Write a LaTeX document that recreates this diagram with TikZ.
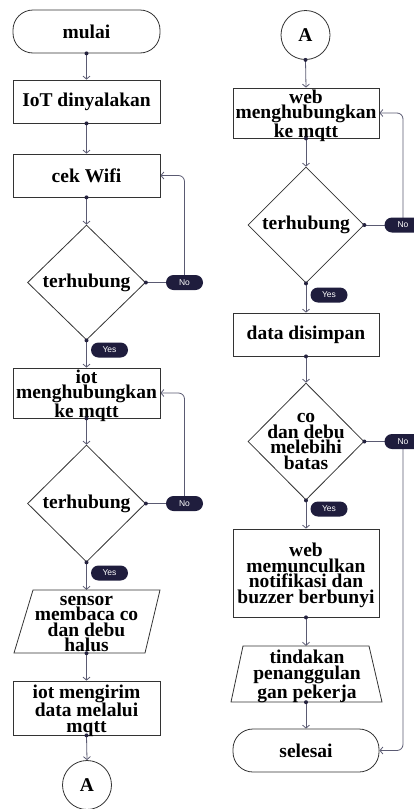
\documentclass[tikz,border=0pt]{standalone}
\usepackage{fontspec}
\setmainfont{Liberation Serif}
\newfontfamily\pillfont{Liberation Sans}
\usetikzlibrary{shapes.geometric,arrows.meta,backgrounds,calc}
\definecolor{linec}{HTML}{5A5A72}
\definecolor{dotc}{HTML}{25233F}
\definecolor{pillc}{HTML}{1F1D3D}
\definecolor{shapec}{HTML}{333333}
\begin{document}
\begin{tikzpicture}[x=1pt,y=-1pt,
  box/.style={draw=shapec, line width=0.8pt, rectangle, minimum width=147pt, inner sep=0pt},
  term/.style={box, rounded corners=20pt},
  dia/.style={draw=shapec, line width=0.8pt, diamond, inner sep=0pt},
  ghost/.style={rectangle, inner sep=0pt},
  conncirc/.style={draw=shapec, line width=0.8pt, circle, inner sep=0pt, minimum size=49pt},
  txt/.style={font=\bfseries\fontsize{19.5}{15.5}\selectfont, align=center, inner sep=0pt},
  txtm/.style={txt, yshift=-2.5pt},
  pill/.style={fill=pillc, text=white, rounded corners=7.5pt, minimum width=37pt, minimum height=15pt, inner sep=0pt, font=\pillfont\fontsize{8.5}{9}\selectfont},
  conn/.style={draw=linec, line width=0.8pt, -{Straight Barb[length=3pt,width=7pt]}},
  plain/.style={draw=linec, line width=0.8pt},
  shapeline/.style={draw=shapec, line width=0.8pt, line join=miter}
]
\useasboundingbox (0,0) rectangle (414,809);
% ---------- left column ----------
\node[term, minimum height=43pt] (t1) at (86.5,31.5) {};
\node[txt] (t1t) at (t1) {mulai};
\node[box, minimum height=43pt] (b1) at (86.5,101.5) {};
\node[txt] (b1t) at (b1) {IoT dinyalakan};
\node[box, minimum height=43pt] (b2) at (86.5,175.5) {};
\node[txt] (b2t) at (b2) {cek Wifi};
\node[dia, minimum width=118pt, minimum height=115pt] (d1) at (86.5,282.5) {};
\node[txt] (d1t) at (d1) {terhubung};
\node[box, minimum height=50pt] (b3) at (86.5,393) {};
\node[txtm] (b3t) at (b3) {iot\\menghubungkan\\ke mqtt};
\node[dia, minimum width=118pt, minimum height=117pt] (d2) at (86.5,503.5) {};
\node[txt] (d2t) at (d2) {terhubung};
\node[ghost, minimum width=147pt, minimum height=63pt] (p1) at (86.5,621.5) {};
\draw[shapeline] (33,590) -- (160,590) -- (145,653) -- (14,653) -- cycle;
\node[txtm] (p1t) at (p1) {sensor\\membaca co\\dan debu\\halus};
\node[box, minimum height=54pt] (b4) at (86.5,708) {};
\node[txtm] (b4t) at (b4) {iot mengirim\\data melalui\\mqtt};
\node[conncirc] (c1) at (87,785) {};
\node[txt] (c1t) at (c1) {A};
% ---------- right column ----------
\node[conncirc] (c2) at (305.5,35) {};
\node[txt] (c2t) at (c2) {A};
\node[box, minimum width=146pt, minimum height=50pt] (b5) at (306,113) {};
\node[txtm] (b5t) at (b5) {web\\menghubungkan\\ke mqtt};
\node[dia, minimum width=116pt, minimum height=116pt] (d3) at (306,225) {};
\node[txt] (d3t) at (d3) {terhubung};
\node[box, minimum width=146pt, minimum height=43pt] (b6) at (306,334.5) {};
\node[txt] (b6t) at (b6) {data disimpan};
\node[dia, minimum width=116pt, minimum height=117pt] (d4) at (306,441.5) {};
\node[txt] (d4t) at (d4) {co\\dan debu\\melebihi\\batas};
\node[box, minimum width=146pt, minimum height=88pt] (b7) at (306,573) {};
\node[txtm] (b7t) at (b7) {web\\memunculkan\\notifikasi dan\\buzzer berbunyi};
\node[ghost, minimum width=146pt, minimum height=56pt] (p2) at (306,674) {};
\draw[shapeline] (243,646) -- (369,646) -- (382,702) -- (231,702) -- cycle;
\node[txtm] (p2t) at (307,674) {tindakan\\penanggulan\\gan pekerja};
\node[term, minimum width=146pt, minimum height=43pt] (t2) at (306,750.5) {};
\node[txt] (t2t) at (t2) {selesai};
% ---------- pills ----------
\node[pill] (yes1) at (109.5,350) {Yes};
\node[pill] (no1) at (184.5,282.5) {No};
\node[pill] (no2) at (184.5,503.5) {No};
\node[pill] (yes2) at (109.5,573) {Yes};
\node[pill] (no3) at (403,225) {No};
\node[pill] (yes3) at (329,295) {Yes};
\node[pill] (no4) at (403,441.5) {No};
\node[pill] (yes4) at (329,509) {Yes};
% ---------- connectors ----------
\begin{scope}[on background layer]
\draw[conn] (t1.south) -- (b1.north);
\draw[conn] (b1.south) -- (b2.north);
\draw[conn] (b2.south) -- (d1.north);
\draw[conn] (d1.south) -- (b3.north);
\draw[plain] (d1.east) -- (no1.center);
\draw[conn, rounded corners=6pt] (no1.center) -- (no1.center |- b2.east) -- (b2.east);
\draw[conn] (b3.south) -- (d2.north);
\draw[plain] (d2.east) -- (no2.center);
\draw[conn, rounded corners=6pt] (no2.center) -- (no2.center |- b3.east) -- (b3.east);
\draw[conn] (d2.south) -- (p1.north);
\draw[conn] (p1.south) -- (b4.north);
\draw[conn] (b4.south) -- (c1.north);
\draw[conn] (c2.south) -- (b5.north);
\draw[conn] (b5.south) -- (d3.north);
\draw[plain] (d3.east) -- (no3.center);
\draw[conn, rounded corners=6pt] (no3.center) -- (no3.center |- b5.east) -- (b5.east);
\draw[conn] (d3.south) -- (b6.north);
\draw[conn] (b6.south) -- (d4.north);
\draw[plain] (d4.east) -- (no4.center);
\draw[conn, rounded corners=6pt] (no4.center) -- (no4.center |- t2.east) -- (t2.east);
\draw[conn] (d4.south) -- (b7.north);
\draw[conn] (b7.south) -- (p2.north);
\draw[conn] (p2.south) -- (t2.north);
\end{scope}
% ---------- dots ----------
\foreach \p in {t1.south,b1.south,b2.south,d1.south,d1.east,b3.south,d2.south,d2.east,p1.south,b4.south,
                c2.south,b5.south,d3.east,d3.south,b6.south,d4.east,d4.south,b7.south,p2.south}
  \fill[dotc] (\p) circle (2pt);
\end{tikzpicture}
\end{document}
